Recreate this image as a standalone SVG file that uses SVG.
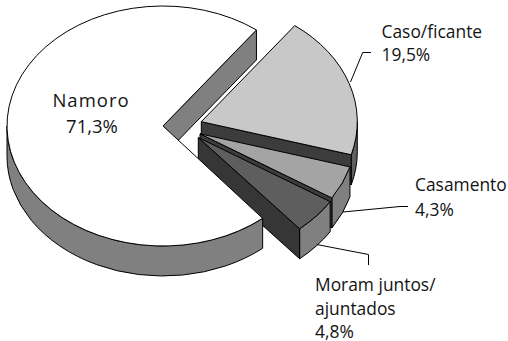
<svg xmlns="http://www.w3.org/2000/svg" width="508" height="341" viewBox="0 0 508 341">
<style>
.e{stroke:#000;stroke-width:1;stroke-linejoin:round}
.lbl{font-family:"Open Sans","Noto Sans",sans-serif;font-size:17.4px;fill:#141414}
.ld{fill:none;stroke:#000;stroke-width:1}
</style>
<rect width="508" height="341" fill="#fff"/>
<g id="slice-caso">
<path class="e" fill="#606060" d="M357.3,121.7 A156,120 0 0 1 351.26,154.78 L351.26,184.78 A156,120 0 0 0 357.3,151.7 Z"/>
<path class="e" fill="#3c3c3c" d="M201.3,121.7 L351.26,154.78 L351.26,184.78 L201.3,151.7 Z"/>
<path class="e" fill="#c8c8c8" d="M201.3,121.7 L294.74,25.61 A156,120 0 0 1 351.26,154.78 Z"/>
</g>
<g id="slice-casamento">
<path class="e" fill="#808080" d="M349.96,166.88 A156,120 0 0 1 331.87,197.93 L331.87,227.93 A156,120 0 0 0 349.96,196.88 Z"/>
<path class="e" fill="#3c3c3c" d="M200,133.8 L331.87,197.93 L331.87,227.93 L200,163.8 Z"/>
<path class="e" fill="#a4a4a4" d="M200,133.8 L349.96,166.88 A156,120 0 0 1 331.87,197.93 Z"/>
</g>
<g id="slice-moram">
<path class="e" fill="#808080" d="M330.17,201.63 A156,120 0 0 1 299.61,228.75 L299.61,258.75 A156,120 0 0 0 330.17,231.63 Z"/>
<path class="e" fill="#363636" d="M198.3,137.5 L299.61,228.75 L299.61,258.75 L198.3,167.5 Z"/>
<path class="e" fill="#5e5e5e" d="M198.3,137.5 L330.17,201.63 A156,120 0 0 1 299.61,228.75 Z"/>
</g>
<g id="slice-namoro">
<path class="e" fill="#808080" d="M262.65,218.33 A156,120 0 0 1 7,126 L7,156 A156,120 0 0 0 262.65,248.33 Z"/>
<path class="e" fill="#808080" d="M163,126 L256.44,29.91 L256.44,59.91 L163,156 Z"/>
<path class="e" fill="#ffffff" d="M163,126 L262.65,218.33 A156,120 0 1 1 256.44,29.91 Z"/>
</g>
<g id="connectors">
<polyline class="ld" points="350.5,82 362.7,52.5 371,52.5"/>
<polyline class="ld" points="343,212 400,206.5 408,206.5"/>
<polyline class="ld" points="316.7,244.5 368.5,254.5 368.5,265"/>
</g>
<g id="label-namoro">
<text class="lbl" x="91" y="106.7" text-anchor="middle" style="font-size:18.5px;letter-spacing:1px">Namoro</text>
<text class="lbl" x="92" y="133.3" text-anchor="middle" style="font-size:18.5px">71,3%</text>
</g>
<g id="label-caso">
<text class="lbl" x="381.5" y="37.7">Caso/ficante</text>
<text class="lbl" x="381.5" y="61.3">19,5%</text>
</g>
<g id="label-casamento">
<text class="lbl" x="415" y="191">Casamento</text>
<text class="lbl" x="415" y="215.7">4,3%</text>
</g>
<g id="label-moram">
<text class="lbl" x="315" y="291">Moram juntos/</text>
<text class="lbl" x="315" y="314.5">ajuntados</text>
<text class="lbl" x="315" y="337.5">4,8%</text>
</g>
</svg>
